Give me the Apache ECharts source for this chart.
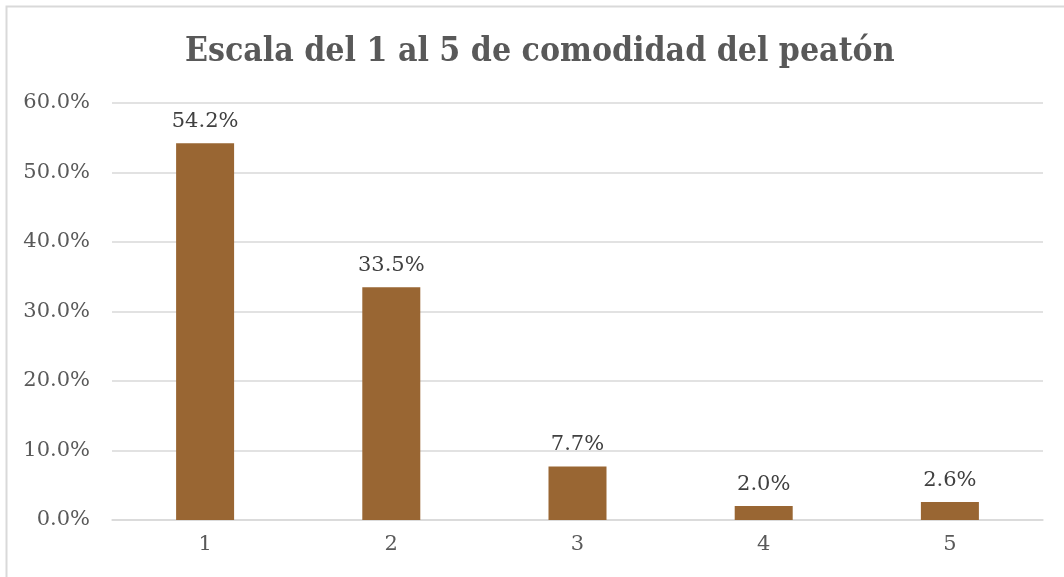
<!DOCTYPE html>
<html lang="es" style="height: 100%">
<head>
  <meta charset="utf-8">
</head>
<body style="height: 100%; margin: 0">
  <div id="container" style="height: 100%"></div>

  <script type="text/javascript" src="https://fastly.jsdelivr.net/npm/echarts@6/dist/echarts.min.js"></script>

  <script type="text/javascript">
    // datos del grafico
    var categories = ['1', '2', '3', '4', '5'];
    var values = [54.2, 33.5, 7.7, 2.0, 2.6];
    var titleText = 'Escala del 1 al 5 de comodidad del peatón';

    var dom = document.getElementById('container');
    var myChart = echarts.init(dom, null, {
      renderer: 'canvas',
      useDirtyRect: false
    });
    var font = '"DejaVu Serif", serif';
    var option;

    option = {
      backgroundColor: '#ffffff',
      animation: false,
      title: {
        text: titleText,
        left: 180,
        top: 30,
        textStyle: {
          fontFamily: '"DejaVu Serif Condensed", "DejaVu Serif", serif',
          fontWeight: 'bold',
          fontSize: 33.5,
          color: '#595959'
        }
      },
      graphic: [
        {
          type: 'rect',
          shape: { x: 6.5, y: 6.5, width: 1070, height: 600 },
          style: { fill: 'none', stroke: '#d9d9d9', lineWidth: 2 },
          silent: true
        }
      ],
      grid: {
        left: 112,
        right: 21,
        top: 103,
        bottom: 57
      },
      xAxis: {
        type: 'category',
        data: categories,
        axisTick: { show: false },
        axisLine: { lineStyle: { color: '#d9d9d9', width: 1.5 } },
        axisLabel: {
          fontFamily: font,
          fontSize: 21,
          color: '#595959',
          margin: 14
        }
      },
      yAxis: {
        type: 'value',
        min: 0,
        max: 60,
        interval: 10,
        axisLine: { show: false },
        axisTick: { show: false },
        splitLine: { lineStyle: { color: '#d9d9d9', width: 1.5 } },
        axisLabel: {
          fontFamily: font,
          fontSize: 21,
          color: '#595959',
          margin: 22,
          formatter: function (v) { return v.toFixed(1) + '%'; }
        }
      },
      series: [
        {
          type: 'bar',
          data: values,
          barWidth: 58,
          itemStyle: { color: '#996633' },
          label: {
            show: true,
            position: 'top',
            distance: 11,
            fontFamily: font,
            fontSize: 21,
            color: '#404040',
            formatter: function (p) { return p.value.toFixed(1) + '%'; }
          }
        }
      ]
    };

    if (option && typeof option === 'object') {
      myChart.setOption(option);
    }

    window.addEventListener('resize', myChart.resize);
  </script>
</body>
</html>
